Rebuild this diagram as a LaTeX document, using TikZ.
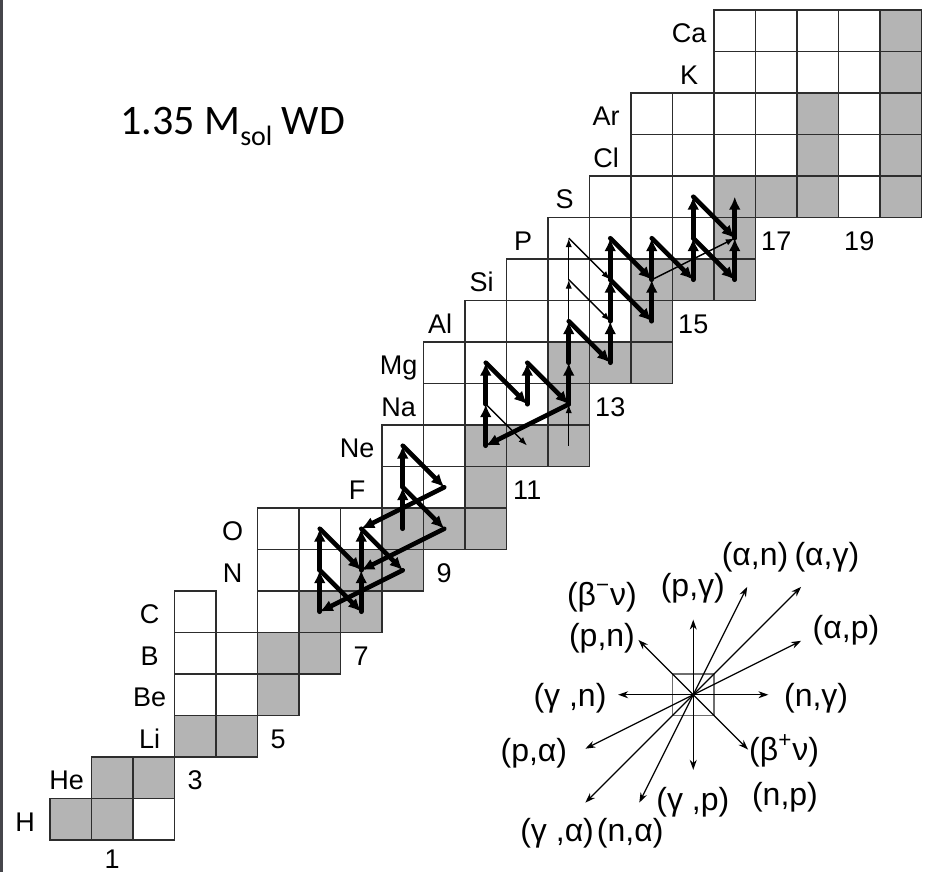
\documentclass[tikz,border=0pt]{standalone}
\usepackage{fontspec}
\setmainfont{Liberation Sans}
\newfontfamily\titlefont{Carlito}
\usetikzlibrary{arrows.meta}
\definecolor{cellgray}{RGB}{180,180,180}
\definecolor{gridc}{RGB}{45,45,45}
\definecolor{legsq}{RGB}{110,110,110}
\definecolor{edgec}{RGB}{70,70,75}
\begin{document}
\begin{tikzpicture}[x=20.75pt,y=20.75pt,
  gridline/.style={draw=gridc,line width=0.95pt},
  thk/.style={line width=2.3pt,line cap=round,-{Latex[length=6.5pt,width=6pt]}},
  thn/.style={line width=0.7pt,-{Latex[length=4.5pt,width=3.2pt]}},
  legarr/.style={line width=0.65pt,-{Stealth[length=5pt,width=3.5pt]}},
  elem/.style={anchor=base,yshift=-5.9pt,inner sep=0pt,font=\fontsize{13.5pt}{15pt}\selectfont},
  leglab/.style={anchor=base,yshift=-4.1pt,inner sep=0pt,font=\fontsize{16pt}{18pt}\selectfont},
]
\useasboundingbox (-1.20482,-0.77108) rectangle (21.39759,20.24096);
\fill[edgec] (-1.20482,-0.77108) rectangle (-1.13253,20.24096);

% gray cells
\foreach \n/\z in {0/1,1/1,1/2,2/2,3/3,4/3,5/4,5/5,6/5,6/6,7/6,7/7,8/7,8/8,9/8,10/8,10/9,10/10,11/10,12/10,12/11,12/12,13/12,14/12,14/13,14/14,15/14,16/14,16/15,16/16,17/16,18/16,20/16,18/17,20/17,18/18,20/18,20/19,20/20}
  \fill[cellgray] (\n,\z-1) rectangle ++(1,1);
% borders
\foreach \n/\z in {0/1,1/1,1/2,2/2,3/3,4/3,5/4,5/5,6/5,6/6,7/6,7/7,8/7,8/8,9/8,10/8,10/9,10/10,11/10,12/10,12/11,12/12,13/12,14/12,14/13,14/14,15/14,16/14,16/15,16/16,17/16,18/16,20/16,18/17,20/17,18/18,20/18,20/19,20/20,
  2/1,3/4,4/4,3/5,4/5,3/6,5/6,5/7,6/7,5/8,6/8,7/8,8/9,9/9,8/10,9/10,9/11,10/11,11/11,9/12,10/12,11/12,10/13,11/13,12/13,13/13,11/14,12/14,13/14,12/15,13/15,14/15,15/15,13/16,14/16,15/16,19/16,14/17,15/17,16/17,17/17,19/17,14/18,15/18,16/18,17/18,19/18,16/19,17/19,18/19,19/19,16/20,17/20,18/20,19/20}
  \draw[gridline] (\n,\z-1) rectangle ++(1,1);

% cell centres
\foreach \n in {0,...,20}{\foreach \z in {1,...,20}{\coordinate (c\n-\z) at (\n+0.5,\z-0.5);}}

% element labels
\node[elem] (lH)  at (-0.6,0.5)  {H};
\node[elem] (lHe) at (0.4,1.5)   {He};
\node[elem] (lLi) at (2.4,2.5)   {Li};
\node[elem] (lBe) at (2.4,3.5)   {Be};
\node[elem] (lB)  at (2.4,4.5)   {B};
\node[elem] (lC)  at (2.4,5.5)   {C};
\node[elem] (lN)  at (4.4,6.5)   {N};
\node[elem] (lO)  at (4.4,7.5)   {O};
\node[elem] (lF)  at (7.4,8.5)   {F};
\node[elem] (lNe) at (7.4,9.5)   {Ne};
\node[elem] (lNa) at (8.4,10.5)  {Na};
\node[elem] (lMg) at (8.4,11.5)  {Mg};
\node[elem] (lAl) at (9.4,12.5)  {Al};
\node[elem] (lSi) at (10.4,13.5) {Si};
\node[elem] (lP)  at (11.4,14.5) {P};
\node[elem] (lS)  at (12.4,15.5) {S};
\node[elem] (lCl) at (13.4,16.5) {Cl};
\node[elem] (lAr) at (13.4,17.5) {Ar};
\node[elem] (lK)  at (15.4,18.5) {K};
\node[elem] (lCa) at (15.4,19.5) {Ca};

% neutron numbers
\node[elem] (n1)  at (1.5,-0.40) {1};
\node[elem] (n3)  at (3.5,1.5)   {3};
\node[elem] (n5)  at (5.5,2.5)   {5};
\node[elem] (n7)  at (7.5,4.5)   {7};
\node[elem] (n9)  at (9.5,6.5)   {9};
\node[elem] (n11) at (11.5,8.5)  {11};
\node[elem] (n13) at (13.5,10.5) {13};
\node[elem] (n15) at (15.5,12.5) {15};
\node[elem] (n17) at (17.5,14.5) {17};
\node[elem] (n19) at (19.5,14.5) {19};

% thin reaction arrows
\draw[thn] (c10-11) -- (c11-10);
\draw[thn] (c12-10) -- (c12-11);
\draw[thn] (c12-13) -- (c12-14);
\draw[thn] (c12-14) -- (c12-15);
\draw[thn] (c12-15) -- (c13-14);
\draw[thn] (c12-14) -- (c13-13);
\draw[thn] (c14-14) -- (c16-15);

% thick reaction arrows
\foreach \a/\b in {6-6/6-7,6-7/6-8,6-8/7-7,6-7/7-6,7-6/7-7,7-7/7-8,7-8/8-7,8-7/6-6,
  8-8/8-9,8-9/8-10,8-10/9-9,9-9/7-8,8-9/9-8,9-8/7-7,
  10-10/10-11,10-11/10-12,10-12/11-11,11-11/11-12,11-12/12-11,12-11/10-10,12-11/12-12,12-12/12-13,
  12-13/13-12,13-12/13-13,13-13/13-14,13-14/13-15,13-15/14-14,13-14/14-13,14-13/14-14,14-14/14-15,
  14-15/15-14,15-14/15-15,15-15/15-16,15-16/16-15,15-15/16-14,16-14/16-15,16-15/16-16}
  \draw[thk] (c\a) -- (c\b);

% title
\node[anchor=base west,inner sep=0pt] (title) at (1.687,16.988)
  {\titlefont\fontsize{21pt}{25pt}\selectfont 1.35 M\raisebox{-5.5pt}{\fontsize{14pt}{16pt}\selectfont sol} WD};

% legend
\node[draw=legsq,line width=0.7pt,minimum size=20.75pt,inner sep=0pt] (lsq) at (15.5,3.5) {};
\coordinate (eU)  at (15.5,5.31);
\coordinate (eD)  at (15.5,1.69);
\coordinate (eR)  at (17.31,3.5);
\coordinate (eL)  at (13.69,3.5);
\coordinate (eUL) at (14.18,4.82);
\coordinate (eDR) at (16.82,2.18);
\coordinate (eAN) at (16.8,6.1);
\coordinate (eAG) at (18.1,6.1);
\coordinate (eAP) at (18.1,4.8);
\coordinate (ePA) at (12.9,2.2);
\coordinate (eGA) at (12.9,0.9);
\coordinate (eNA) at (14.2,0.9);
\foreach \e in {eU,eD,eR,eL,eUL,eDR,eAN,eAG,eAP,ePA,eGA,eNA}
  \draw[legarr] (lsq.center) -- (\e);

\node[leglab] (tAN) at (16.99,6.80) {(α,n)};
\node[leglab] (tAG) at (18.72,6.80) {(α,γ)};
\node[leglab] (tBm) at (13.30,5.86) {(β\textsuperscript{−}ν)};
\node[leglab] (tPG) at (15.49,6.07) {(p,γ)};
\node[leglab] (tPN) at (13.30,4.87) {(p,n)};
\node[leglab] (tAP) at (19.18,5.06) {(α,p)};
\node[leglab] (tGN) at (12.53,3.42) {(γ ,n)};
\node[leglab] (tNG) at (18.46,3.42) {(n,γ)};
\node[leglab] (tPA) at (11.66,2.10) {(p,α)};
\node[leglab] (tBp) at (17.69,2.12) {(β\textsuperscript{+}ν)};
\node[leglab] (tGP) at (15.49,0.92) {(γ ,p)};
\node[leglab] (tNP) at (17.71,1.04) {(n,p)};
\node[leglab] (tGA) at (12.22,0.17) {(γ ,α)};
\node[leglab] (tNA) at (13.98,0.17) {(n,α)};
\end{tikzpicture}
\end{document}
